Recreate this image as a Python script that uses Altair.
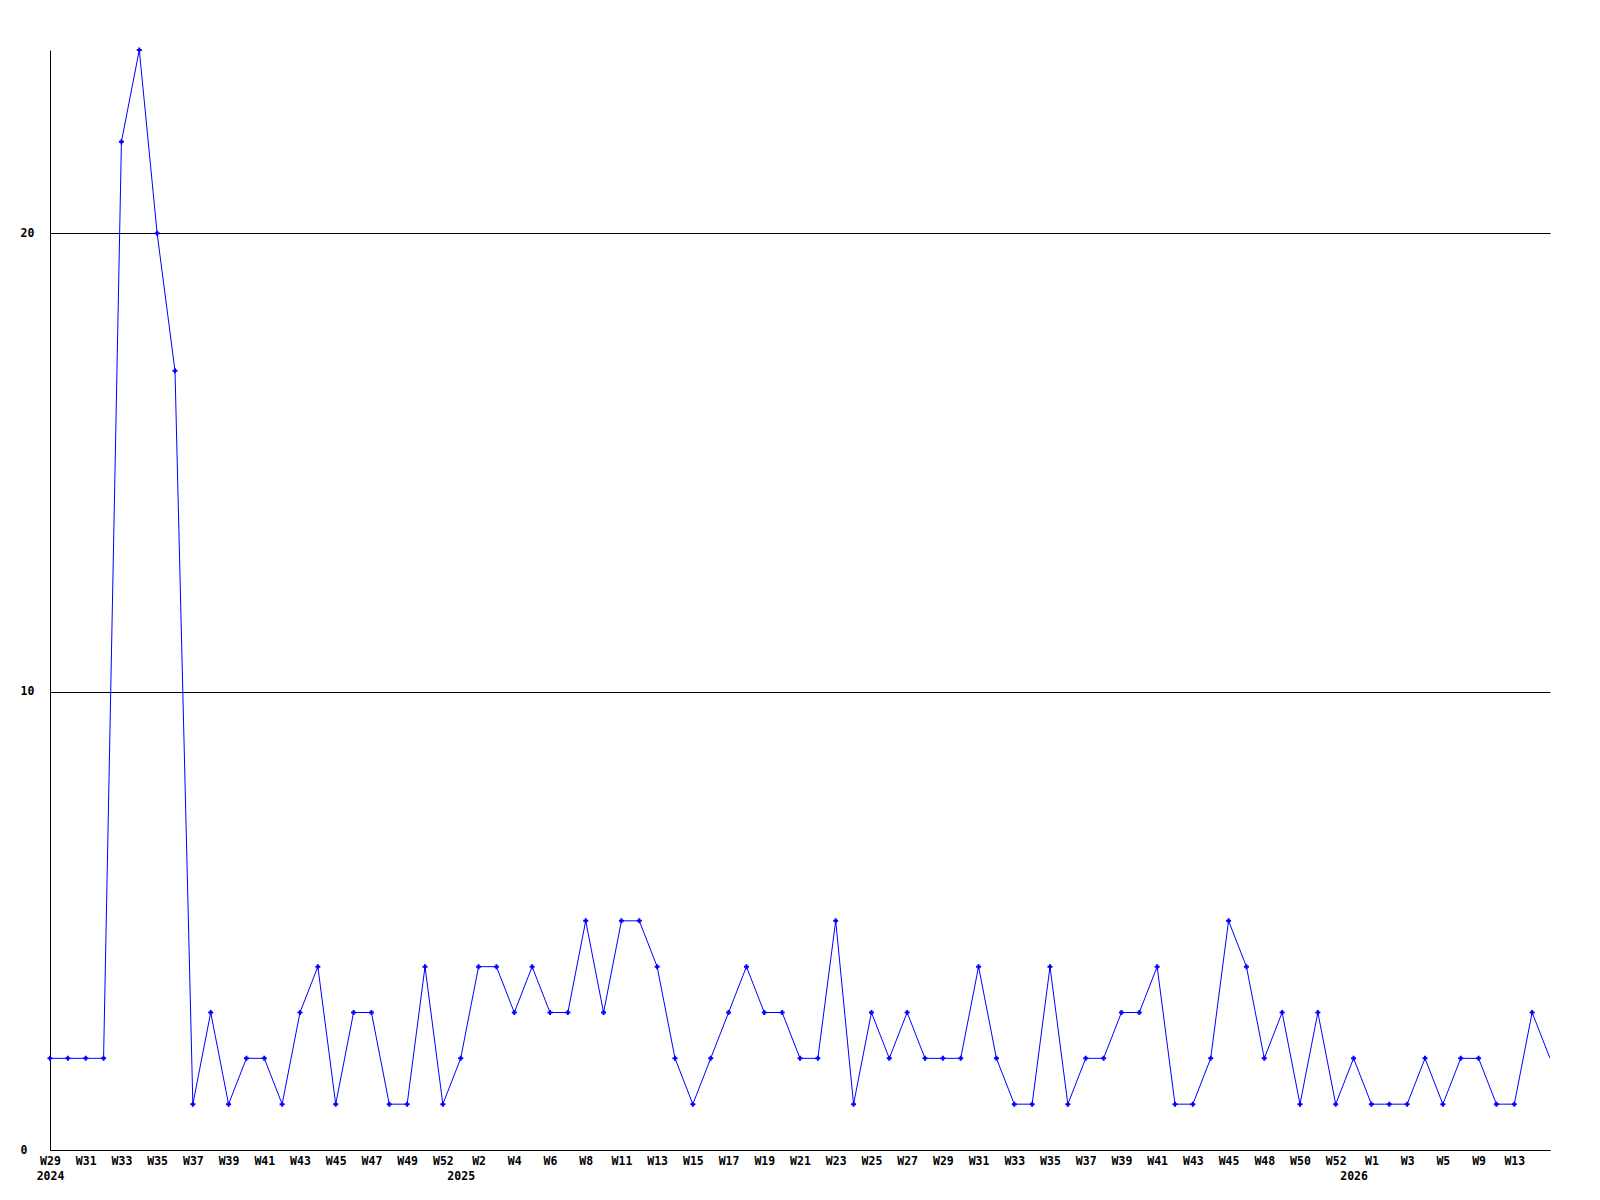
import json
import altair as alt
import pandas as pd

# weekly values, one per week shown on the axis (last one is the current, unmarked week)
values = [2, 2, 2, 2, 22, 24, 20, 17, 1, 3, 1, 2, 2, 1, 3, 4, 1, 3, 3, 1, 1, 4, 1, 2, 4, 4, 3, 4, 3,
          3, 5, 3, 5, 5, 4, 2, 1, 2, 3, 4, 3, 3, 2, 2, 5, 1, 3, 2, 3, 2, 2, 2, 4, 2, 1, 1, 4, 1, 2,
          2, 3, 3, 4, 1, 1, 2, 5, 4, 2, 3, 1, 3, 1, 2, 1, 1, 1, 2, 1, 2, 2, 1, 1, 3, 2]

# week tick labels, shown on every second week
tick_labels = ["W29", "W31", "W33", "W35", "W37", "W39", "W41", "W43", "W45", "W47",
               "W49", "W52", "W2", "W4", "W6", "W8", "W11", "W13", "W15", "W17",
               "W19", "W21", "W23", "W25", "W27", "W29", "W31", "W33", "W35", "W37",
               "W39", "W41", "W43", "W45", "W48", "W50", "W52", "W1", "W3", "W5",
               "W9", "W13"]
tick_step = 2

# year labels and the week index where each year starts
years = ["2024", "2025", "2026"]
year_index = [0, 23, 73]

y_ticks = [0, 10, 20]

df = pd.DataFrame({"idx": list(range(len(values))), "count": values})

label_map = {}
for i, lab in enumerate(tick_labels):
    label_map[str(i * tick_step)] = [lab]
for yr, pos in zip(years, year_index):
    first = label_map.get(str(pos), [""])[0]
    label_map[str(pos)] = [first, "\u00a0" + yr]
tick_values = sorted(int(k) for k in label_map)
label_expr = json.dumps(label_map) + "[toString(datum.value)]"

FONT = "DejaVu Sans Mono"
FSIZE = 11.5
n_last = len(values) - 1

x_enc = alt.X(
    "idx:Q",
    scale=alt.Scale(domain=[0, n_last], nice=False, zero=False),
    axis=alt.Axis(
        title=None, values=tick_values, labelExpr=label_expr, grid=False,
        ticks=False, tickSize=0, labelPadding=5, labelOverlap=False,
        labelFlush=False, labelBound=False, labelSeparation=0,
        labelLineHeight=15, domainColor="black",
        labelFont=FONT, labelFontSize=FSIZE, labelFontWeight="bold", labelColor="black",
    ),
)
y_enc = alt.Y(
    "count:Q",
    scale=alt.Scale(domain=[0, 24], nice=False),
    axis=alt.Axis(
        title=None, values=y_ticks, grid=True, gridColor="black", gridOpacity=1,
        gridWidth=1, ticks=False, tickSize=0, labelAlign="left", labelPadding=30,
        labelOverlap=False, domainColor="black", labelFont=FONT, labelFontSize=FSIZE,
        labelFontWeight="bold", labelColor="black",
    ),
)

base = alt.Chart(df).encode(x=x_enc, y=y_enc)
line = base.mark_line(color="#0000ff", strokeWidth=1, clip=True)
points = base.transform_filter(f"datum.idx < {n_last}").mark_point(
    shape="cross", filled=True, size=25, color="#0000ff", opacity=1
)

chart = (
    alt.layer(line, points)
    .properties(
        width=1500, height=1100,
        autosize=alt.AutoSizeParams(type="none"),
        padding={"left": 42, "top": 42, "right": 30, "bottom": 35},
        background="white",
    )
    .configure_axis(labelOverlap=False)
    .configure_view(stroke=None)
)

chart.save("out.html", embed_options={"renderer": "svg", "actions": False})
